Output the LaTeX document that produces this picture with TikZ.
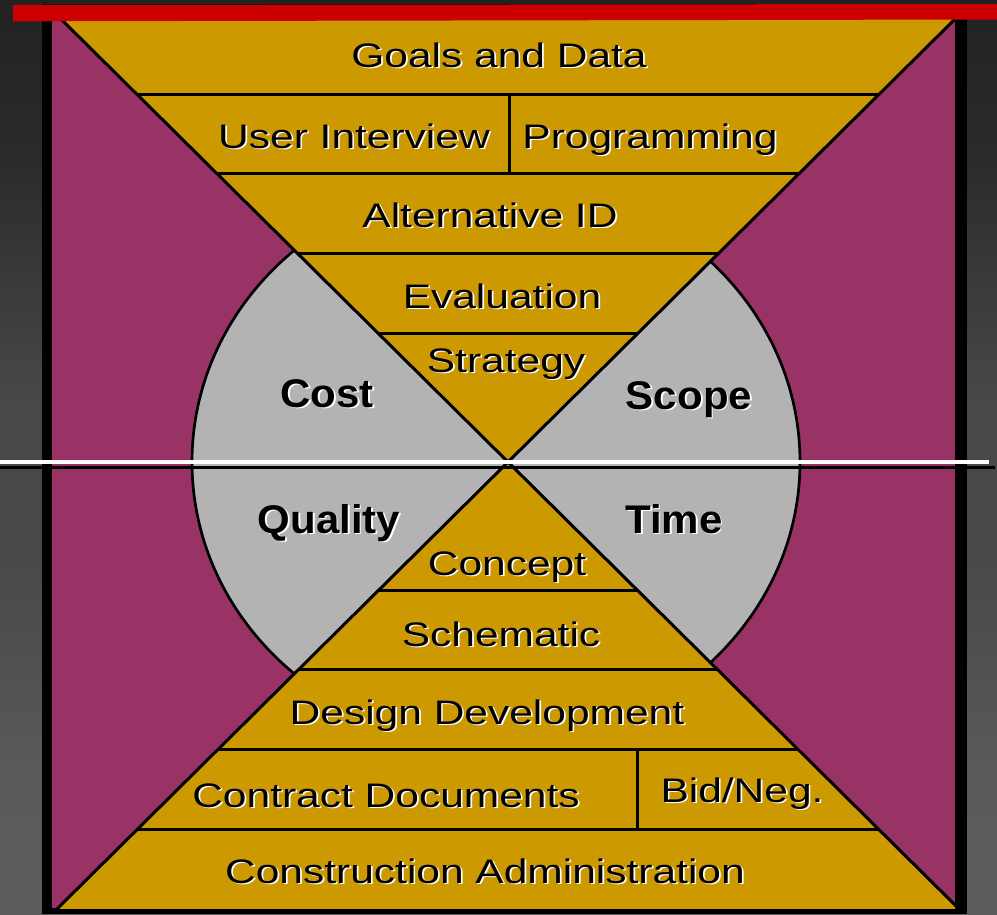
\documentclass[tikz,border=0pt]{standalone}
\usepackage{fontspec}
\setmainfont{Liberation Sans}
\newfontfamily\regf[FakeStretch=1.25]{Liberation Sans}
\newfontfamily\boldf[FakeStretch=1.05]{Liberation Sans}
\definecolor{magentabg}{HTML}{993366}
\definecolor{gold}{HTML}{CC9900}
\definecolor{lgray}{HTML}{B3B3B3}
\definecolor{barred}{HTML}{CC0000}
\definecolor{bgA}{HTML}{222222}
\definecolor{bgB}{HTML}{2A2A2A}
\definecolor{bgC}{HTML}{484848}
\definecolor{bgD}{HTML}{5A5A5A}
\definecolor{bgE}{HTML}{5C5C5C}
\tikzset{
  lbl/.style={anchor=base, inner sep=0pt, font=\regf\fontsize{34}{40}\selectfont},
  blbl/.style={anchor=base, inner sep=0pt, font=\boldf\bfseries\fontsize{40}{48}\selectfont},
  edge/.style={draw=black, line width=3pt},
}
\newcommand\shlab[5]{% style, name, x, baseline y, text
  \node[#1, text=white] (#2s) at (#3+1.7,#4+1.7) {#5};
  \node[#1, text=black] (#2) at (#3,#4) {#5};}
\begin{document}
\begin{tikzpicture}[x=1pt,y=-1pt]
\useasboundingbox (0,0) rectangle (997,914);
% background gradient
\fill[top color=bgA, bottom color=bgB] (0,0) rectangle (997,150);
\fill[top color=bgB, bottom color=bgC] (0,149.5) rectangle (997,400);
\fill[bgC] (0,399.5) rectangle (997,550);
\fill[top color=bgC, bottom color=bgD] (0,549.5) rectangle (997,780);
\fill[top color=bgD, bottom color=bgE] (0,779.5) rectangle (997,914);
% frame
\fill[black] (42,4) rectangle (967,914);
\fill[magentabg] (52,20) rectangle (955,908);
% ellipse
\filldraw[fill=lgray, draw=black, line width=2.7pt] (496,462) ellipse [x radius=304pt, y radius=283pt];
% triangles
\coordinate (C) at (508,462);
\begin{scope}
  \clip (52,18) rectangle (955,908);
  \path[fill=gold] (41.8,0) -- (974.2,0) -- (C) -- cycle;
  \path[fill=gold] (C) -- (964.1,914) -- (51.9,914) -- cycle;
  \begin{scope}
    \clip (41.8,0) -- (974.2,0) -- (C) -- cycle;
    \foreach \yy in {94,173,253,333} \draw[edge] (0,\yy) -- (997,\yy);
  \end{scope}
  \begin{scope}
    \clip (C) -- (964.1,914) -- (51.9,914) -- cycle;
    \foreach \yy in {590,669,749,829} \draw[edge] (0,\yy) -- (997,\yy);
  \end{scope}
  \draw[edge] (509,94) -- (509,173);
  \draw[edge] (637,749) -- (637,829);
  \draw[edge, line join=miter] (41.8,0) -- (C) -- (964.1,914);
  \draw[edge, line join=miter] (974.2,0) -- (C) -- (51.9,914);
\end{scope}
% red bar
\fill[barred] (13,5) -- (997,4) -- (997,19.5) -- (13,21.3) -- cycle;
% horizontal line
\fill[black] (0,465.5) rectangle (995,469);
\fill[white] (0,460) rectangle (989,464.3);
% labels
\shlab{lbl}{goals}{499}{67}{Goals and Data}
\shlab{lbl}{user}{354}{148}{User Interview}
\shlab{lbl}{prog}{650}{148}{Programming}
\shlab{lbl}{alt}{490}{227}{Alternative ID}
\shlab{lbl}{eval}{502}{308}{Evaluation}
\shlab{lbl}{strat}{506}{372}{Strategy}
\shlab{lbl}{concept}{507}{575}{Concept}
\shlab{lbl}{schem}{501}{646}{Schematic}
\shlab{lbl}{dd}{487}{724}{Design Development}
\shlab{lbl}{cd}{386}{807}{Contract Documents}
\shlab{lbl}{bid}{742}{802}{Bid/Neg.}
\shlab{lbl}{ca}{485}{883}{Construction Administration}
\shlab{blbl}{cost}{327}{407}{Cost}
\shlab{blbl}{scope}{689}{409}{Scope}
\shlab{blbl}{quality}{329}{533}{Quality}
\shlab{blbl}{time}{674}{533}{Time}
\end{tikzpicture}
\end{document}
